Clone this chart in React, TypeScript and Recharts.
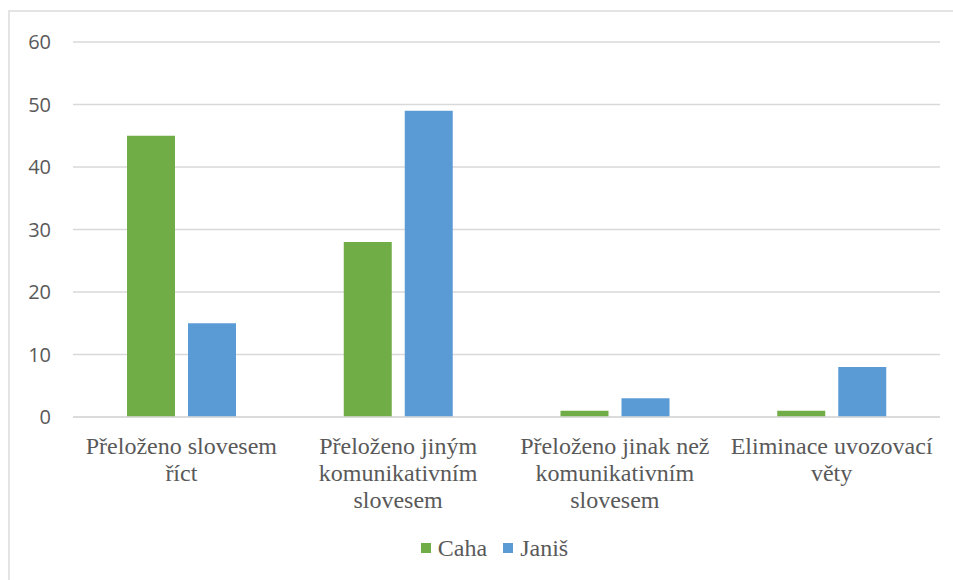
import React from 'react';
import { BarChart, Bar, XAxis, YAxis, CartesianGrid, Legend } from 'recharts';

// category labels, split into the lines they wrap to
const categoryLines = [
    ['Přeloženo slovesem', 'říct'],
    ['Přeloženo jiným', 'komunikativním', 'slovesem'],
    ['Přeloženo jinak než', 'komunikativním', 'slovesem'],
    ['Eliminace uvozovací', 'věty'],
];
const categories = categoryLines.map((l) => l.join(' '));
const caha = [45, 28, 1, 1];
const janis = [15, 49, 3, 8];
const yTicks = [0, 10, 20, 30, 40, 50, 60];

const GREEN = '#70ad47';
const BLUE = '#5b9bd5';
const TEXT = '#595959';
const SERIF = '"Liberation Serif", "Times New Roman", serif';

const data = categories.map((name, i) => ({ name, caha: caha[i], janis: janis[i] }));

const CategoryTick = (props: any) => {
    const { x, y, payload, index } = props;
    const lines = categoryLines[index] ?? [payload.value];
    return (
        <text x={x} y={y + 29} textAnchor="middle" fill={TEXT} style={{ fontFamily: SERIF, fontSize: 24 }}>
            {lines.map((line, i) => (
                <tspan key={i} x={x} dy={i === 0 ? 0 : 27}>{line}</tspan>
            ))}
        </text>
    );
};

const LegendBox = () => (
    <div style={{ display: 'flex', justifyContent: 'center', gap: 16, paddingLeft: 36, fontFamily: SERIF, fontSize: 24, color: TEXT, lineHeight: '28px' }}>
        {[{ label: 'Caha', color: GREEN }, { label: 'Janiš', color: BLUE }].map((it) => (
            <span key={it.label} style={{ display: 'flex', alignItems: 'center', gap: 7 }}>
                <span style={{ width: 10, height: 10, background: it.color, display: 'inline-block' }} />
                {it.label}
            </span>
        ))}
    </div>
);

export default function App() {
    return (
        <div style={{ position: 'absolute', left: 0, top: 0, width: 953, height: 580, overflow: 'hidden', background: '#fff', fontFamily: SERIF }}>
            <div style={{ position: 'absolute', left: 8, top: 10, width: 1000, height: 1000, borderLeft: '2px solid #e4e4e4', borderTop: '2px solid #e4e4e4' }} />
            <BarChart
                width={953}
                height={580}
                data={data}
                margin={{ top: 42, right: 13, left: 0, bottom: 0 }}
                barSize={48}
                barGap={13}
            >
                <CartesianGrid vertical={false} stroke="#d9d9d9" strokeWidth={1.5} />
                <XAxis
                    dataKey="name"
                    tick={<CategoryTick />}
                    tickLine={false}
                    axisLine={{ stroke: '#d9d9d9', strokeWidth: 1.5 }}
                    interval={0}
                    height={163}
                />
                <YAxis
                    width={73}
                    domain={[0, 60]}
                    ticks={yTicks}
                    tickLine={false}
                    axisLine={false}
                    tickSize={0}
                    tickMargin={22}
                    tick={{ fill: TEXT, fontSize: 20, fontFamily: 'Open Sans' }}
                />
                <Legend
                    content={<LegendBox />}
                    wrapperStyle={{ position: 'absolute', top: 534, left: 0, width: 953, height: 0 }}
                />
                <Bar dataKey="caha" name="Caha" fill={GREEN} isAnimationActive={false} />
                <Bar dataKey="janis" name="Janiš" fill={BLUE} isAnimationActive={false} />
            </BarChart>
        </div>
    );
}
